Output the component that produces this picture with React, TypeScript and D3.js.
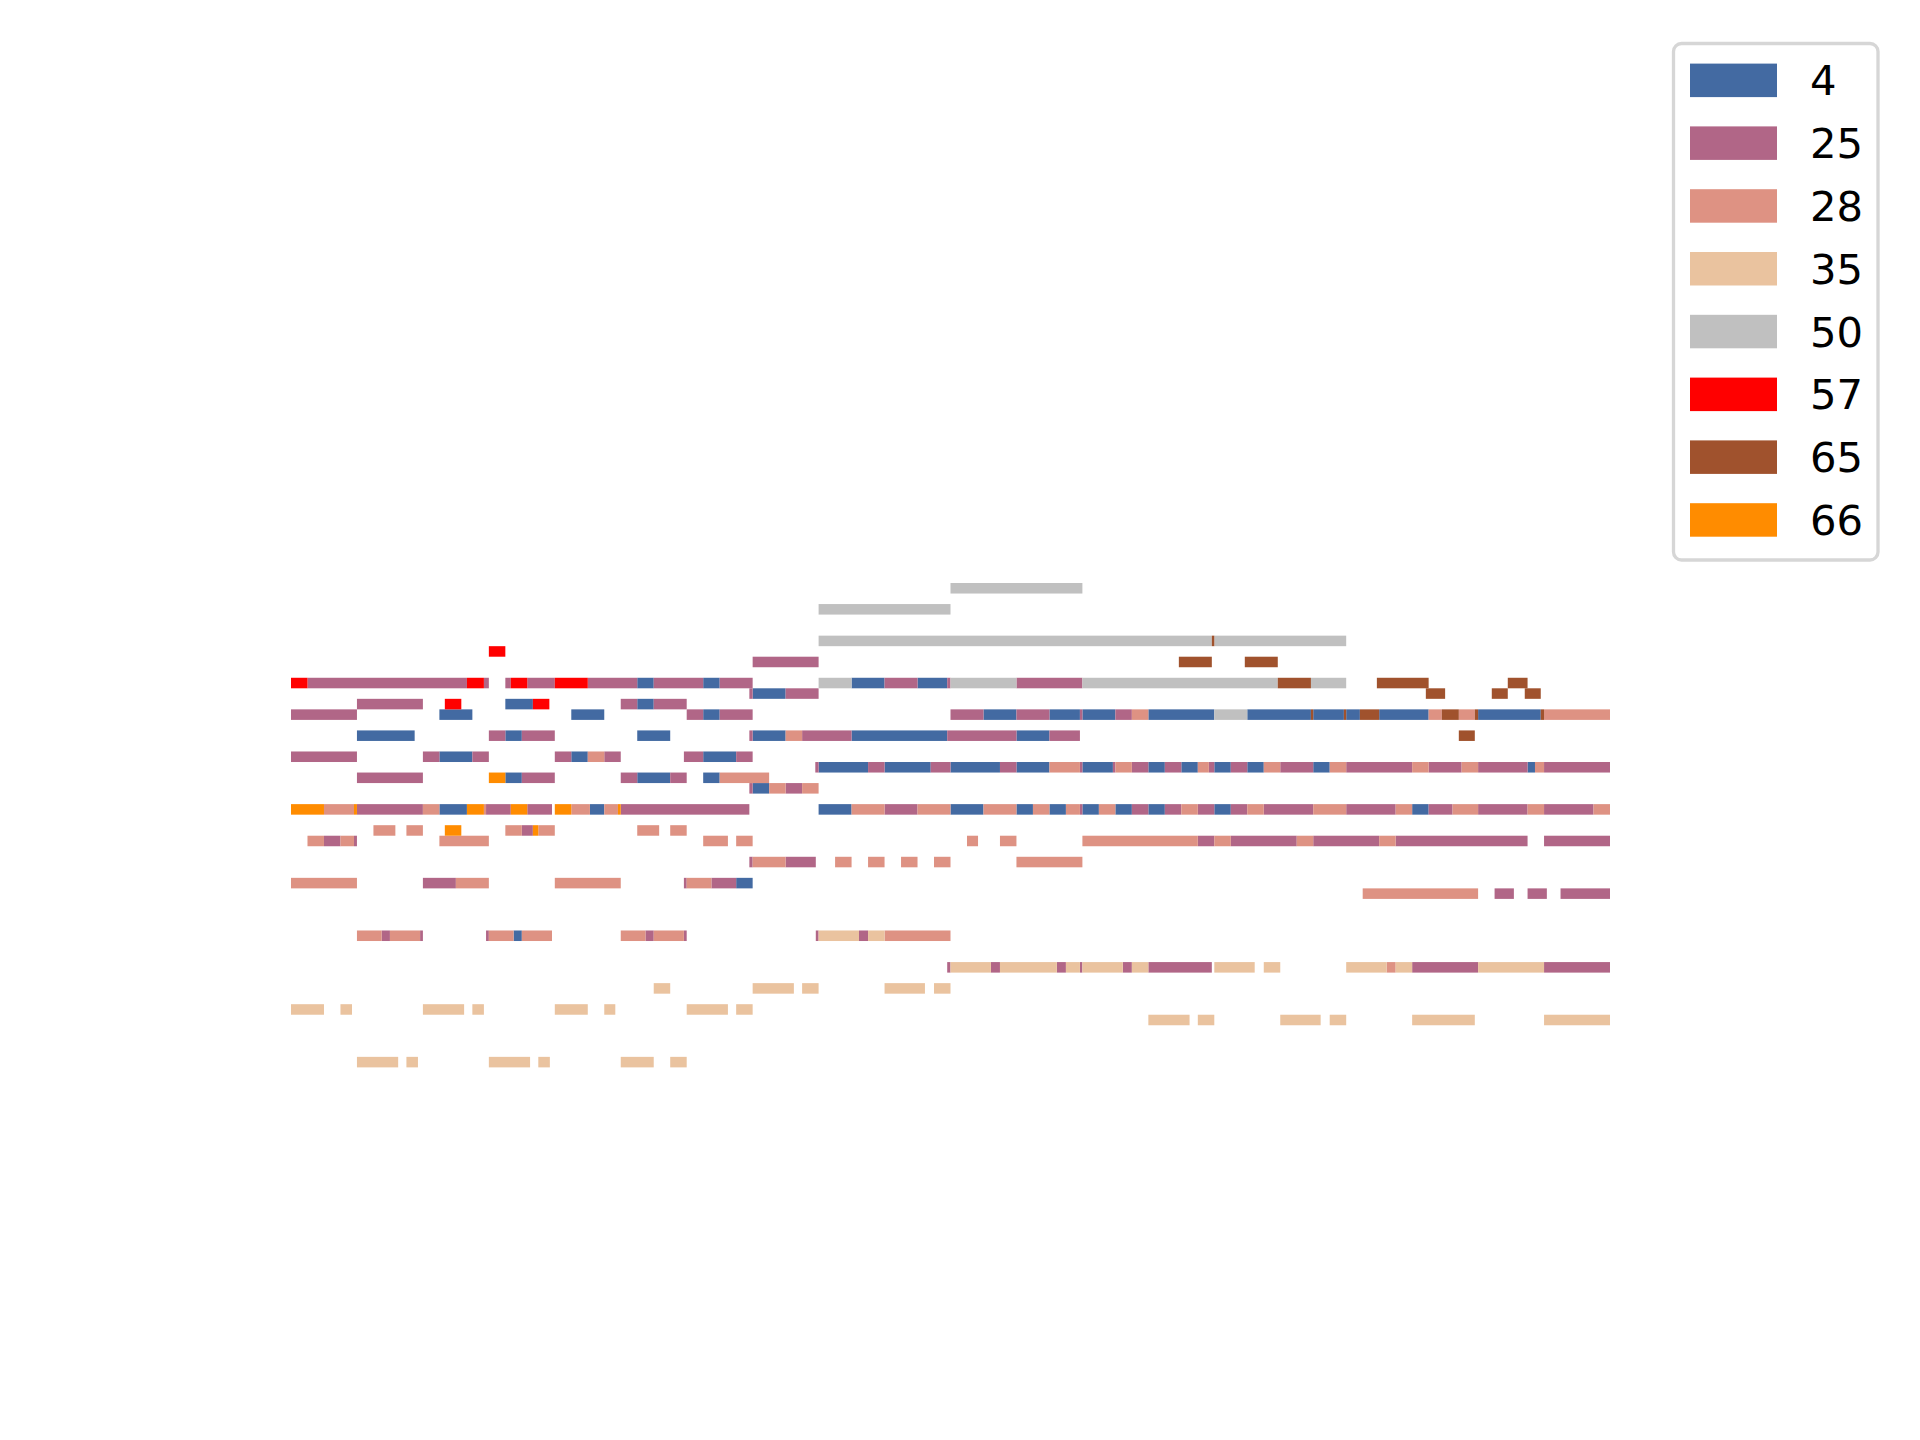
import React from 'react'
import * as d3 from 'd3'

// note = [start beat, end beat, midi pitch]
type Note = [number, number, number]

const programs = ['4', '25', '28', '35', '50', '57', '65', '66']
const colors = ['#436aa2', '#b16687', '#de9283', '#eac39f', '#c0c0c0', '#ff0000', '#a0522d', '#ff8c00']

const notes4: Note[] = [
  [21, 22, 72], [25, 26, 72], [34, 36, 72], [38, 39.8, 72],
  [28, 30, 71],
  [13, 14.67, 70], [21, 22, 70],
  [9, 11, 69], [17, 19, 69], [25, 26, 69], [42, 44, 69], [46, 47.85, 69], [48, 50, 69], [52, 56, 69],
  [58, 61.86, 69], [62, 63.86, 69], [64, 64.83, 69], [66, 69, 69], [72, 75.8, 69],
  [4, 7.5, 67], [13, 14, 67], [21, 23, 67], [28, 30, 67], [34, 39.8, 67], [44, 46, 67],
  [9, 11, 65], [17, 18, 65], [25, 27, 65],
  [32, 35, 64], [36, 38.8, 64], [40, 43, 64], [44, 46, 64], [48, 49.85, 64], [52, 53, 64], [54, 55, 64],
  [56, 57, 64], [58, 59, 64], [62, 63, 64], [75, 75.45, 64],
  [13, 14, 63], [21, 23, 63], [25, 26, 63],
  [28, 29, 62],
  [9, 10.67, 60], [18.13, 19, 60], [32, 34, 60], [40, 42, 60], [44, 45, 60], [46, 47, 60], [48, 49, 60],
  [50, 51, 60], [52, 53, 60], [56, 57, 60], [68, 69, 60],
  [27, 28, 53],
  [13.5, 14, 48],
]

const notes25: Note[] = [
  [28, 32, 74],
  [1, 10.67, 72], [11.7, 12, 72], [13, 13.33, 72], [14.33, 16, 72], [18, 21, 72], [22, 25, 72], [26, 28, 72],
  [36, 38, 72], [39.8, 40, 72], [44, 48, 72],
  [27.8, 28, 71], [30, 32, 71],
  [4, 8, 70], [20, 21, 70], [22, 24, 70],
  [0, 4, 69], [24, 25, 69], [26, 28, 69], [40, 42, 69], [44, 46, 69], [47.85, 48, 69], [50, 51, 69],
  [12, 13, 67], [14, 16, 67], [27.8, 28, 67], [31, 34, 67], [39.8, 44, 67], [46, 47.85, 67],
  [0, 4, 65], [8, 9, 65], [11, 12, 65], [16, 17, 65], [19, 20, 65], [23.83, 25, 65], [27, 28, 65],
  [31.8, 32, 64], [35, 36, 64], [38.8, 40, 64], [43, 44, 64], [47.85, 48, 64], [49.85, 50, 64], [51, 52, 64],
  [53, 54, 64], [55.67, 56, 64], [57, 58, 64], [60, 62, 64], [64, 68, 64], [69, 71, 64], [72, 75, 64], [76, 80, 64],
  [4, 8, 63], [14, 16, 63], [20, 21, 63], [23, 24, 63],
  [27.8, 28, 62], [30, 31, 62],
  [4, 8, 60], [11.83, 13.33, 60], [14.33, 15.83, 60], [20, 27.8, 60], [36, 38, 60], [47.85, 48, 60],
  [51, 52, 60], [53, 54, 60], [55, 56, 60], [57, 58, 60], [59, 62, 60], [64, 67, 60], [69, 70.45, 60],
  [72, 75, 60], [76, 79, 60],
  [14, 14.67, 58],
  [2, 3, 57], [3.82, 4, 57], [55, 56, 57], [57, 61, 57], [62, 66, 57], [67, 75, 57], [76, 80, 57],
  [27.8, 28, 55], [30, 31.83, 55],
  [8, 10, 53], [23.83, 24, 53], [25.5, 27, 53],
  [73, 74.17, 52], [75, 76.17, 52], [77, 80, 52],
  [5.5, 6, 48], [7.83, 8, 48], [11.83, 12, 48], [21.5, 22, 48], [23.83, 24, 48], [31.83, 32, 48], [34.45, 35, 48],
  [39.8, 40, 45], [42.45, 43, 45], [46.45, 47, 45], [47.85, 48, 45], [50.45, 51, 45], [52, 55.85, 45],
  [68, 72, 45], [76, 80, 45],
]

const notes28: Note[] = [
  [51, 52, 69], [69, 69.8, 69], [70.83, 71.8, 69], [76, 80, 69],
  [30, 31, 67],
  [18, 19, 65],
  [46, 47.85, 64], [50, 51, 64], [55, 55.67, 64], [59, 60, 64], [63, 64, 64], [68, 69, 64], [71, 72, 64], [75.45, 76, 64],
  [26, 29, 63],
  [29, 30, 62], [31, 32, 62],
  [2, 3.82, 60], [8, 9, 60], [11.7, 11.83, 60], [17, 18.13, 60], [19, 19.83, 60], [34, 36, 60], [38, 40, 60],
  [42, 44, 60], [45, 46, 60], [47, 47.85, 60], [49, 50, 60], [54, 55, 60], [58, 59, 60], [62, 64, 60],
  [67, 68, 60], [70.45, 72, 60], [75, 76, 60], [79, 80, 60],
  [5, 6.33, 58], [7, 8, 58], [13, 14, 58], [15, 16, 58], [21, 22.33, 58], [23, 24, 58],
  [1, 2, 57], [3, 3.82, 57], [9, 12, 57], [25, 26.5, 57], [27, 28, 57], [41, 41.67, 57], [43, 44, 57],
  [48, 55, 57], [56, 57, 57], [61, 62, 57], [66, 67, 57],
  [28, 30, 55], [33, 34, 55], [35, 36, 55], [37, 38, 55], [39, 40, 55], [44, 48, 55],
  [0, 4, 53], [10, 12, 53], [16, 20, 53], [24, 25.5, 53],
  [65, 72, 52],
  [4, 5.5, 48], [6, 7.83, 48], [12, 13.5, 48], [14, 15.83, 48], [20, 21.5, 48], [22, 23.83, 48], [36, 40, 48],
  [66.45, 67, 45],
]

const notes35: Note[] = [
  [32, 34.45, 48], [35, 36, 48],
  [40, 42.45, 45], [43, 46.45, 45], [47, 47.85, 45], [48, 50.45, 45], [51, 52, 45], [56, 58.45, 45],
  [59, 60, 45], [64, 66.45, 45], [67, 68, 45], [72, 76, 45],
  [22, 23, 43], [28, 30.5, 43], [31, 32, 43], [36, 38.45, 43], [39, 40, 43],
  [0, 2, 41], [3, 3.7, 41], [8, 10.5, 41], [11, 11.7, 41], [16, 18, 41], [19, 19.67, 41], [24, 26.5, 41], [27, 28, 41],
  [52, 54.5, 40], [55, 56, 40], [60, 62.45, 40], [63, 64, 40], [68, 71.8, 40], [76, 80, 40],
  [4, 6.5, 36], [7, 7.7, 36], [12, 14.5, 36], [15, 15.7, 36], [20, 22, 36], [23, 24, 36],
]

const notes50: Note[] = [
  [40, 48, 81],
  [32, 40, 79],
  [32, 55.85, 76], [56, 64, 76],
  [32, 34, 72], [40, 44, 72], [48, 59.85, 72], [61.86, 64, 72],
  [56, 58, 69],
]

const notes57: Note[] = [
  [12, 13, 75],
  [0, 1, 72], [10.67, 11.7, 72], [13.33, 14.33, 72], [16, 18, 72],
  [9.33, 10.33, 70], [14.67, 15.67, 70],
]

const notes65: Note[] = [
  [55.85, 56, 76],
  [53.85, 55.85, 74], [57.85, 59.85, 74],
  [59.85, 61.86, 72], [65.86, 69, 72], [73.8, 75, 72],
  [68.83, 70, 71], [72.83, 73.8, 71], [74.83, 75.8, 71],
  [61.86, 62, 69], [63.86, 64, 69], [64.83, 66, 69], [69.8, 70.83, 69], [71.8, 72, 69], [75.8, 76, 69],
  [70.83, 71.8, 67],
]

const notes66: Note[] = [
  [12, 13, 63],
  [0, 2, 60], [3.82, 4, 60], [10.67, 11.7, 60], [13.33, 14.33, 60], [16, 17, 60], [19.83, 20, 60],
  [9.33, 10.33, 58], [14.67, 15, 58],
]

const tracks = [notes4, notes25, notes28, notes35, notes50, notes57, notes65, notes66]

export default function App() {
  const width = 1920
  const height = 1440

  const x = d3.scaleLinear().domain([0, 80]).range([291, 1610])
  const y = d3.scaleLinear().domain([81.5, 35.5]).range([583, 583 + 46 * 10.53])

  const fs = 41.7
  const rowGap = 62.8

  return (
    <svg width={width} height={height} style={{ position: 'absolute', left: 0, top: 0, background: '#fff' }}>
      <g>
        {tracks.map((notes, ti) =>
          notes.map((n, i) => (
            <rect
              key={ti + '-' + i}
              x={x(n[0])}
              y={y(n[2] + 0.5)}
              width={x(n[1]) - x(n[0])}
              height={y(n[2] - 0.5) - y(n[2] + 0.5)}
              fill={colors[ti]}
            />
          ))
        )}
      </g>

      {/* legend */}
      <g>
        <rect x={1673.5} y={43.5} width={204.5} height={516.5} rx={8} fill="#fff" fillOpacity={0.8}
          stroke="#d6d6d6" strokeWidth={3.3} />
        {programs.map((p, i) => {
          const cy = 80.3 + i * rowGap
          return (
            <g key={p}>
              <rect x={1690} y={cy - 16.7} width={87} height={33.5} fill={colors[i]} />
              <text x={1810} y={cy} dy="0.36em" fontSize={fs} fontFamily="DejaVu Sans" fill="#000">{p}</text>
            </g>
          )
        })}
      </g>
    </svg>
  )
}
